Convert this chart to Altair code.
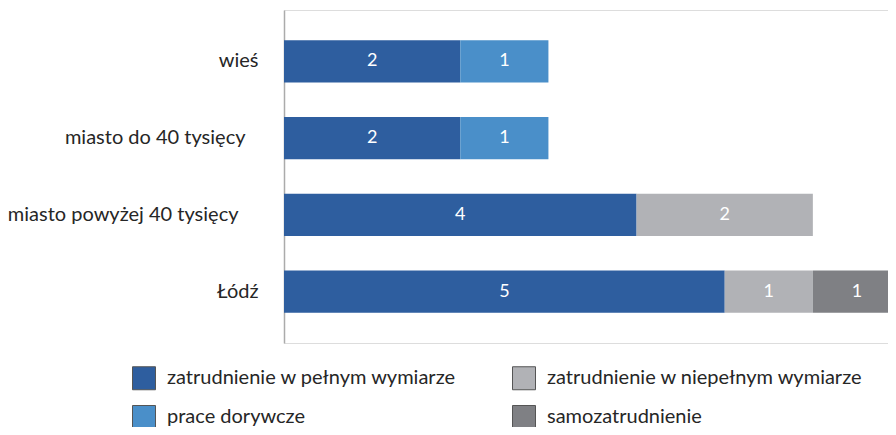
import altair as alt
import pandas as pd

categories = ["wieś", "miasto do 40 tysięcy", "miasto powyżej 40 tysięcy", "Łódź"]
series = [
    "zatrudnienie w pełnym wymiarze",
    "prace dorywcze",
    "zatrudnienie w niepełnym wymiarze",
    "samozatrudnienie",
]
full_time = [2, 2, 4, 5]
casual = [1, 1, 0, 0]
part_time = [0, 0, 2, 1]
self_emp = [0, 0, 0, 1]
colors = ["#2E5E9F", "#4A8FC9", "#B1B2B6", "#7F8084"]

rows = []
for i, cat in enumerate(categories):
    for k, (name, vals) in enumerate(zip(series, [full_time, casual, part_time, self_emp])):
        if vals[i] > 0:
            rows.append({"category": cat, "series": name, "value": vals[i], "order": k})
df = pd.DataFrame(rows)

FONT = "Lato"

base = alt.Chart(df).transform_stack(
    stack="value", groupby=["category"], sort=[alt.SortField("order")], as_=["x0", "x1"]
).transform_calculate(mid="(datum.x0 + datum.x1) / 2")

yenc = alt.Y(
    "category:N",
    sort=categories,
    scale=alt.Scale(paddingInner=0.45, paddingOuter=0.3945),
    axis=alt.Axis(
        title=None, ticks=False, tickSize=0,
        labelPadding={
            "condition": [
                {"test": "datum.value == 'miasto do 40 tysięcy'", "value": 39},
                {"test": "datum.value == 'miasto powyżej 40 tysięcy'", "value": 46},
            ],
            "value": 26,
        },
        labelFontSize=20, labelFont=FONT, labelColor="#262626",
        domainColor="#ABABAB", domainWidth=1.5, grid=False, labelLimit=400,
    ),
)
xscale = alt.Scale(domain=[0, 7], range=[0, 617], nice=False, zero=True)

bars = base.mark_bar().encode(
    y=yenc,
    x=alt.X("x0:Q", scale=xscale, axis=None),
    x2="x1:Q",
    color=alt.Color(
        "series:N",
        sort=series,
        scale=alt.Scale(domain=series, range=colors),
        legend=alt.Legend(
            title=None, orient="none", legendX=-152, legendY=356, columns=2,
            columnPadding=53, rowPadding=11, symbolType="square", symbolSize=529,
            symbolStrokeColor="#555555", symbolStrokeWidth=1, labelFont=FONT,
            labelFontSize=20, labelColor="#262626", labelOffset=11, padding=0,
            labelLimit=400,
        ),
    ),
)

labels = base.mark_text(color="white", font=FONT, fontSize=18, baseline="middle").encode(
    y=alt.Y("category:N", sort=categories),
    x=alt.X("mid:Q", scale=xscale),
    text=alt.Text("value:Q"),
)

chart = alt.layer(bars, labels).properties(
    width=604,
    height=333,
    autosize=alt.AutoSizeParams(type="none"),
    padding={"left": 276, "top": 2, "right": 0, "bottom": 84},
).configure_view(stroke=None).configure(background="white")

chart.save("out.html", embed_options={"renderer": "svg", "actions": False})
